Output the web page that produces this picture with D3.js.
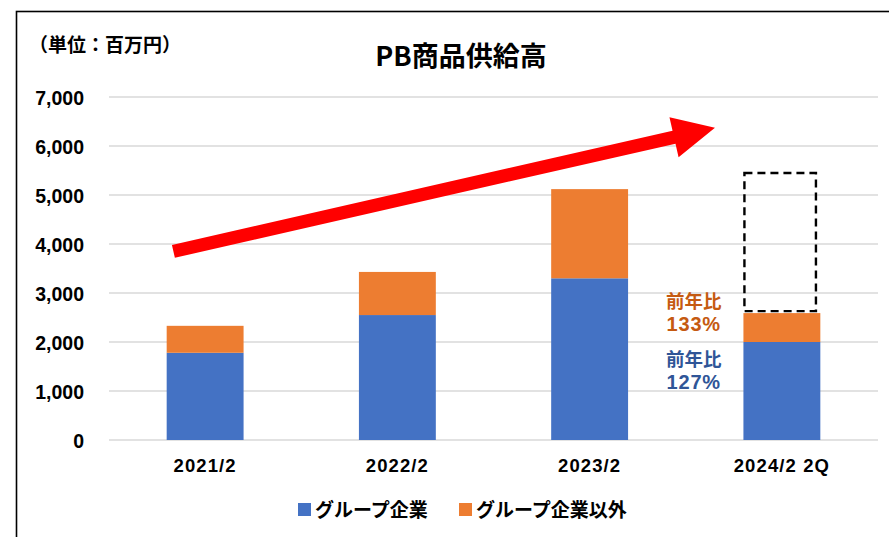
<!DOCTYPE html>
<html><head><meta charset="utf-8">
<script src="https://cdn.jsdelivr.net/npm/d3@7"></script>
<style>
html,body{margin:0;padding:0;background:#fff;}
svg{display:block;}
</style></head>
<body>
<script>
const categories = ["2021/2", "2022/2", "2023/2", "2024/2 2Q"];
const groupValues = [1780, 2550, 3300, 2000];
const otherValues = [550, 880, 1820, 590];
const seriesNames = ["グループ企業", "グループ企業以外"];
const yTicks = [0, 1000, 2000, 3000, 4000, 5000, 6000, 7000];
const forecastRange = [2630, 5450];      // dashed box for last period
const arrowFrom = [-0.165, 3850];        // [category position, value]
const arrowTo = [2.652, 6370];
const notes = [
  {lines: ["前年比", "133%"], value: 2690, color: "#C55A11"},
  {lines: ["前年比", "127%"], value: 1510, color: "#2F5597"}
];
const title = "PB商品供給高";
const unitLabel = "（単位：百万円）";

const W = 889, H = 537;
const colors = ["#4472C4", "#ED7D31"];
const svg = d3.select("body").append("svg").attr("width", W).attr("height", H);

// frame
svg.append("rect").attr("x", 16.5).attr("y", 11.5).attr("width", 1000).attr("height", 1000)
  .attr("fill", "none").attr("stroke", "#000").attr("stroke-width", 1.6);

const x = d3.scaleBand().domain(categories).range([109, 878]).paddingInner(0.6).paddingOuter(0.3);
const xPos = d3.scaleLinear().domain([-0.5, categories.length - 0.5]).range([109, 878]);
const y = d3.scaleLinear().domain([0, 7000]).range([440, 97]);

// gridlines
svg.append("g").selectAll("line").data(yTicks).join("line")
  .attr("x1", 109).attr("x2", 878)
  .attr("y1", d => y(d)).attr("y2", d => y(d))
  .attr("stroke", "#D9D9D9").attr("stroke-width", 1.6);

// y axis labels
const yAxis = d3.axisLeft(y).tickValues(yTicks).tickFormat(d3.format(",")).tickSize(0).tickPadding(0);
const yg = svg.append("g").attr("transform", "translate(84,0)").call(yAxis);
yg.select(".domain").remove();
yg.selectAll("text").attr("font-family", "'Liberation Sans', Arial, sans-serif")
  .attr("font-weight", "bold").attr("font-size", 19.5).attr("fill", "#000").attr("dy", "0.36em");

// x axis labels
const xAxis = d3.axisBottom(x).tickSize(0).tickPadding(0);
const xg = svg.append("g").attr("transform", "translate(0,472)").call(xAxis);
xg.select(".domain").remove();
xg.selectAll("text").attr("font-family", "'Liberation Sans', Arial, sans-serif")
  .attr("font-weight", "bold").attr("font-size", 18.5).attr("fill", "#000")
  .attr("dy", 0).attr("letter-spacing", "1.1px");

// stacked bars
const rows = categories.map((c, i) => ({cat: c, g: groupValues[i], o: otherValues[i]}));
const stack = d3.stack().keys(["g", "o"])(rows);
svg.append("g").selectAll("g").data(stack).join("g")
  .attr("fill", (d, i) => colors[i])
  .selectAll("rect").data(d => d).join("rect")
  .attr("x", d => x(d.data.cat)).attr("width", x.bandwidth())
  .attr("y", d => y(d[1])).attr("height", d => y(d[0]) - y(d[1]));

// forecast dashed box
const lastCat = categories[categories.length - 1];
svg.append("rect")
  .attr("x", x(lastCat) + 1).attr("width", x.bandwidth() * 0.93)
  .attr("y", y(forecastRange[1])).attr("height", y(forecastRange[0]) - y(forecastRange[1]))
  .attr("fill", "none").attr("stroke", "#000").attr("stroke-width", 2.4)
  .attr("stroke-dasharray", "8,5");

// arrow
{
  const x0 = xPos(arrowFrom[0]), y0 = y(arrowFrom[1]);
  const x1 = xPos(arrowTo[0]), y1 = y(arrowTo[1]);
  const ang = Math.atan2(y1 - y0, x1 - x0);
  const len = Math.hypot(x1 - x0, y1 - y0);
  const sw = 6.6, hw = 20.5, hl = 42;
  const pts = [[0, -sw], [len - hl, -sw], [len - hl, -hw], [len, 0], [len - hl, hw], [len - hl, sw], [0, sw]];
  const c = Math.cos(ang), s = Math.sin(ang);
  const P = pts.map(([u, v]) => [x0 + u * c - v * s, y0 + u * s + v * c]);
  svg.append("polygon").attr("points", P.map(p => p.join(",")).join(" ")).attr("fill", "#FF0000");
}

// annotations
const noteX = xPos(2.5) + 8;
notes.forEach(n => {
  const t = svg.append("text").attr("x", noteX).attr("y", y(n.value))
    .attr("text-anchor", "middle").attr("fill", n.color)
    .attr("font-family", "'Noto Sans CJK JP', sans-serif").attr("font-weight", "bold").attr("font-size", 18);
  n.lines.forEach((l, i) => t.append("tspan").attr("x", noteX).attr("dy", i === 0 ? 0 : 23)
    .attr("font-family", i === 0 ? "'Noto Sans CJK JP', sans-serif" : "'Liberation Sans', Arial, sans-serif")
    .attr("font-size", i === 0 ? 18.5 : 20).attr("letter-spacing", i === 0 ? 0 : "0.8px").text(l));
});

// title & unit
svg.append("text").attr("x", 461).attr("y", 66).attr("text-anchor", "middle")
  .attr("font-family", "'Noto Sans CJK JP', sans-serif").attr("font-weight", "bold").attr("font-size", 27)
  .text(title);
svg.append("text").attr("x", 29).attr("y", 52)
  .attr("font-family", "'Noto Sans CJK JP', sans-serif").attr("font-weight", "bold").attr("font-size", 19)
  .text(unitLabel);

// legend
const legendX = [298, 459];
seriesNames.forEach((nm, i) => {
  svg.append("rect").attr("x", legendX[i]).attr("y", 503).attr("width", 13).attr("height", 13).attr("fill", colors[i]);
  svg.append("text").attr("x", legendX[i] + 17).attr("y", 517)
    .attr("font-family", "'Noto Sans CJK JP', sans-serif").attr("font-weight", "bold").attr("font-size", 19)
    .text(nm);
});
</script>
</body></html>
